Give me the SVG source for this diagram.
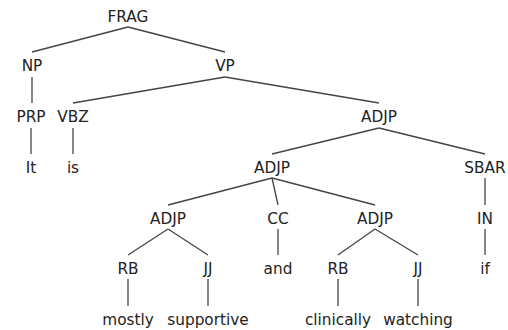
<svg xmlns="http://www.w3.org/2000/svg" width="508" height="330" viewBox="0 0 508 330">
<style>
text{font-family:"DejaVu Sans","Liberation Sans",sans-serif;font-size:15.3px;fill:#222;text-anchor:middle}
.e line{stroke:#444;stroke-width:1.3}
</style>
<rect width="508" height="330" fill="#fff"/>
<g class="e" id="edges">
<line x1="128" y1="27" x2="32" y2="52"/>
<line x1="128" y1="27" x2="225" y2="52"/>
<line x1="32" y1="77" x2="32" y2="103"/>
<line x1="225" y1="77" x2="73" y2="103"/>
<line x1="225" y1="77" x2="379" y2="103"/>
<line x1="31" y1="128" x2="31" y2="154"/>
<line x1="73" y1="128" x2="73" y2="154"/>
<line x1="379" y1="128" x2="272" y2="154"/>
<line x1="379" y1="128" x2="485" y2="154"/>
<line x1="272" y1="178" x2="168" y2="205"/>
<line x1="272" y1="178" x2="278" y2="205"/>
<line x1="272" y1="178" x2="375" y2="205"/>
<line x1="485" y1="178" x2="485" y2="205"/>
<line x1="168" y1="229" x2="128" y2="255"/>
<line x1="168" y1="229" x2="208" y2="255"/>
<line x1="278" y1="229" x2="278" y2="255"/>
<line x1="375" y1="229" x2="338" y2="255"/>
<line x1="375" y1="229" x2="418" y2="255"/>
<line x1="485" y1="229" x2="485" y2="255"/>
<line x1="128" y1="279" x2="128" y2="306"/>
<line x1="208" y1="279" x2="208" y2="306"/>
<line x1="338" y1="279" x2="338" y2="306"/>
<line x1="418" y1="279" x2="418" y2="306"/>
</g>
<g id="frag"><text x="128" y="21.5">FRAG</text></g>
<g id="np"><text x="32" y="71">NP</text></g>
<g id="vp"><text x="225" y="71">VP</text></g>
<g id="prp"><text x="31" y="122">PRP</text></g>
<g id="vbz"><text x="73" y="122">VBZ</text></g>
<g id="adjp1"><text x="379" y="122">ADJP</text></g>
<g id="it"><text x="31" y="173">It</text></g>
<g id="is"><text x="73" y="173">is</text></g>
<g id="adjp2"><text x="272" y="173">ADJP</text></g>
<g id="sbar"><text x="485" y="173">SBAR</text></g>
<g id="adjp3"><text x="168" y="223.5">ADJP</text></g>
<g id="cc"><text x="278" y="223.5">CC</text></g>
<g id="adjp4"><text x="375" y="223.5">ADJP</text></g>
<g id="in"><text x="485" y="223.5">IN</text></g>
<g id="rb1"><text x="128" y="274">RB</text></g>
<g id="jj1"><text x="208" y="274">JJ</text></g>
<g id="and"><text x="278" y="274">and</text></g>
<g id="rb2"><text x="338" y="274">RB</text></g>
<g id="jj2"><text x="418" y="274">JJ</text></g>
<g id="if"><text x="485" y="274">if</text></g>
<g id="mostly"><text x="128" y="324.5">mostly</text></g>
<g id="supportive"><text x="208" y="324.5">supportive</text></g>
<g id="clinically"><text x="338" y="324.5">clinically</text></g>
<g id="watching"><text x="418" y="324.5">watching</text></g>
</svg>
